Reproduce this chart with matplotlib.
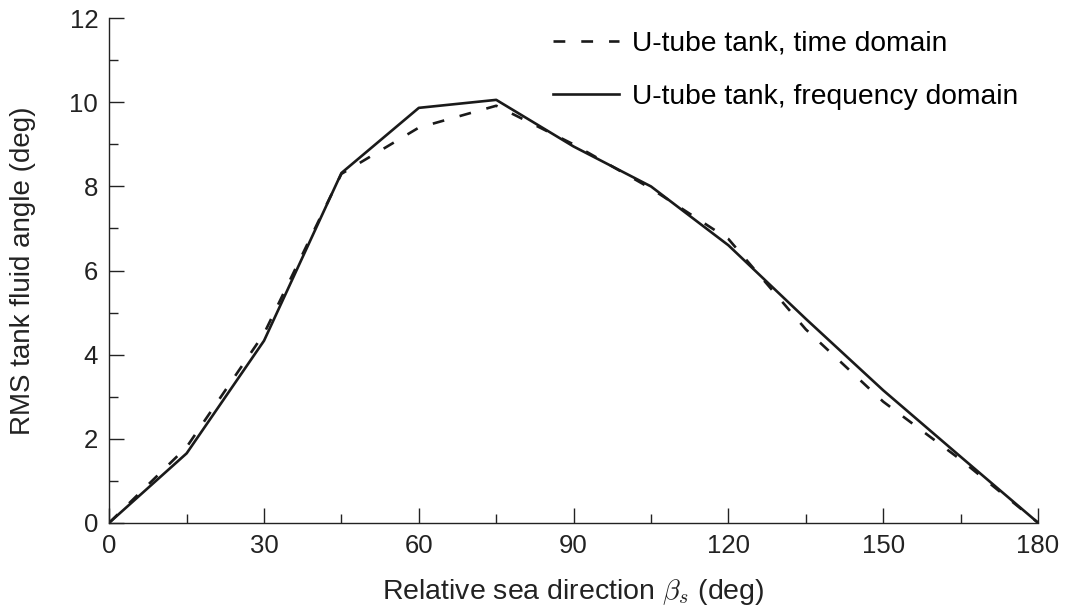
import matplotlib
matplotlib.use('Agg')
import matplotlib.pyplot as plt

plt.rcParams['font.family'] = ['Liberation Sans', 'DejaVu Sans']
plt.rcParams['mathtext.fontset'] = 'cm'
plt.rcParams['lines.scale_dashes'] = False

heading = [0, 15, 30, 45, 60, 75, 90, 105, 120, 135, 150, 165, 180]
rms_time = [0, 1.8, 4.5, 8.3, 9.4, 9.92, 9.0, 7.95, 6.75, 4.6, 2.88, 1.5, 0]
rms_freq = [0, 1.65, 4.33, 8.32, 9.87, 10.06, 8.95, 8.0, 6.6, 4.85, 3.15, 1.57, 0]

fig = plt.figure(figsize=(10.68, 6.15), dpi=100)
ax = fig.add_axes([0.1023, 0.1501, 0.8696, 0.8201])

ax.plot(heading, rms_time, color='#1a1a1a', lw=1.9, dashes=(8.5, 11.5),
        label='U-tube tank, time domain')
ax.plot(heading, rms_freq, color='#1a1a1a', lw=1.9,
        label='U-tube tank, frequency domain')

ax.set_xlim(0, 180)
ax.set_ylim(0, 12)
ax.set_xticks(range(0, 181, 30))
ax.set_xticks(range(15, 181, 30), minor=True)
ax.set_yticks(range(0, 13, 2))
ax.set_yticks(range(1, 13, 2), minor=True)

for s in ['top', 'right']:
    ax.spines[s].set_visible(False)
for s in ['left', 'bottom']:
    ax.spines[s].set_linewidth(1.0)
    ax.spines[s].set_color('#222222')

ax.tick_params(which='major', direction='in', length=10.5, width=1.0,
               labelsize=18.5, pad=8, color='#222222', labelcolor='#222222')
ax.tick_params(which='minor', direction='in', length=6.5, width=1.0,
               color='#222222')

ax.set_xlabel(r'Relative sea direction $\beta_s$ (deg)', fontsize=20.5,
              color='#222222', labelpad=14)
ax.set_ylabel('RMS tank fluid angle (deg)', fontsize=20, color='#222222',
              labelpad=24)

ax.legend(loc='upper left', bbox_to_anchor=(0.478, 0.975), frameon=False,
          fontsize=20.3, handlelength=2.35, handletextpad=0.45,
          labelspacing=0.95, borderpad=0, borderaxespad=0)

plt.savefig('out.png', dpi=100)
